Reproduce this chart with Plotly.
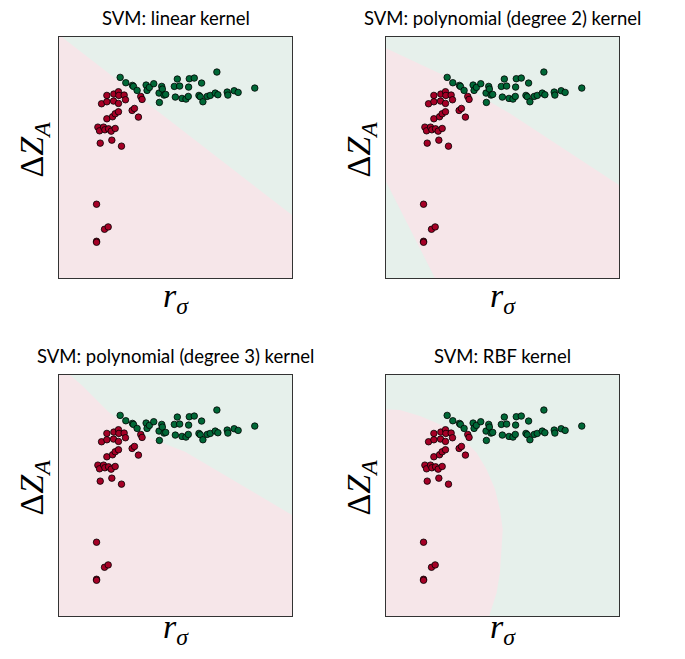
import plotly.graph_objects as go

# page has an 8px body margin, so the figure is drawn in page pixels shifted by OFF
OFF = 8
W, H = 685 - 2 * OFF, 659 - 2 * OFF

# ---- data (arbitrary units 0..10 on both axes) ----
green_x = [2.625, 2.867, 3.153, 3.195, 3.352, 3.738, 3.780, 3.880, 4.066, 4.294, 4.308, 4.408,
           4.437, 4.508, 4.579, 4.950, 4.993, 5.078, 5.178, 5.278, 5.449, 5.549, 5.563, 5.592,
           5.806, 6.120, 6.006, 6.063, 6.177, 6.362, 6.491, 6.705, 6.819, 6.776, 7.218, 7.247,
           7.518, 7.689, 8.402]
green_y = [8.324, 8.102, 7.992, 7.950, 7.784, 8.006, 7.784, 7.909, 8.061, 7.673, 7.285, 7.950,
           7.839, 7.590, 7.618, 7.950, 7.507, 8.255, 7.964, 7.452, 7.424, 7.535, 7.922, 8.269,
           8.296, 8.089, 7.576, 7.521, 7.313, 7.535, 7.576, 7.673, 7.604, 8.546, 7.715, 7.590,
           7.770, 7.701, 7.881]
red_x = [2.054, 2.354, 2.553, 2.568, 2.796, 2.853, 1.826, 2.054, 2.340, 2.553, 3.509, 3.566,
         3.138, 3.238, 3.409, 2.054, 2.297, 2.411, 2.553, 1.669, 1.740, 1.912, 1.969, 2.126,
         2.240, 2.411, 1.769, 2.268, 2.682, 1.612, 1.954, 2.111, 1.612, 1.612]
red_y = [7.576, 7.632, 7.729, 7.576, 7.590, 7.396, 7.230, 7.313, 7.341, 7.244, 7.535, 7.410,
         6.953, 7.036, 6.676, 6.607, 6.690, 6.814, 6.898, 6.260, 6.108, 6.260, 6.150, 6.191,
         6.094, 6.205, 5.596, 5.720, 5.471, 3.061, 2.022, 2.119, 1.524, 1.482]

titles = ["SVM: linear kernel", "SVM: polynomial (degree 2) kernel",
          "SVM: polynomial (degree 3) kernel", "SVM: RBF kernel"]

# decision-region (green class) polygons, per panel
green_regions = [
    [([0.12, 10, 10], [10, 2.61, 10])],
    [([0, 2.61, 5.32, 10, 10, 0], [9.53, 8.35, 6.83, 3.86, 10, 10]),
     ([0, 2.10, 0], [4.00, 0, 0])],
    [([0.47, 0.97, 1.55, 2.12, 2.69, 3.40, 4.12, 5.41, 8.41, 10, 10],
      [10, 9.59, 9.03, 8.48, 8.06, 7.65, 7.30, 6.82, 5.10, 4.19, 10])],
    [([0, 0, 0.60, 1.46, 2.32, 3.18, 3.89, 4.32, 4.68, 4.89, 5.01, 4.96, 4.89, 4.75, 4.53, 4.43, 10, 10],
      [10, 8.58, 8.55, 8.30, 7.95, 7.47, 6.77, 6.08, 5.26, 4.42, 3.59, 2.62, 1.80, 0.97, 0.25, 0, 0, 10])],
]

# ---- styling ----
RED = "#a50026"
GRN = "#006837"
PINK_BG = "rgb(246,230,233)"
GREEN_BG = "rgb(230,240,235)"

# panel page-pixel boxes (left, right, top, bottom)
boxes = [(59, 292, 37, 278), (386, 619, 37, 278), (59, 292, 375, 616), (386, 619, 375, 616)]


def px(v):
    return (v - OFF) / W


def py(v):
    return 1 - (v - OFF) / H


fig = go.Figure()
layout = {}
for i, (l, r, t, b) in enumerate(boxes):
    k = "" if i == 0 else str(i + 1)
    xa, ya = "x" + k, "y" + k
    common = dict(range=[0, 10], showticklabels=False, ticks="", showgrid=False, zeroline=False,
                  showline=True, mirror=True, linecolor="#333333", linewidth=1, fixedrange=True)
    layout["xaxis" + k] = dict(domain=[px(l), px(r)], anchor=ya, **common)
    layout["yaxis" + k] = dict(domain=[py(b), py(t)], anchor=xa, **common)
    for gx, gy in green_regions[i]:
        fig.add_trace(go.Scatter(x=gx, y=gy, fill="toself", fillcolor=GREEN_BG, mode="lines",
                                 line=dict(width=0), xaxis=xa, yaxis=ya, hoverinfo="skip",
                                 showlegend=False))
    fig.add_trace(go.Scatter(x=red_x, y=red_y, mode="markers", xaxis=xa, yaxis=ya, showlegend=False,
                             marker=dict(size=6.5, color=RED, line=dict(color="black", width=0.8))))
    fig.add_trace(go.Scatter(x=green_x, y=green_y, mode="markers", xaxis=xa, yaxis=ya, showlegend=False,
                             marker=dict(size=6.5, color=GRN, line=dict(color="black", width=0.8))))

serif = "Liberation Serif, DejaVu Serif, serif"
annotations = []
for i, (l, r, t, b) in enumerate(boxes):
    cx = (l + r) / 2
    annotations.append(dict(text=titles[i], x=px(cx), y=py(t - 19), xref="paper", yref="paper",
                            showarrow=False, xanchor="center", yanchor="middle",
                            font=dict(family="Lato, Open Sans, sans-serif", size=18.5, color="black")))
    if i < 2:
        xl = dict(y=py(b + 20), yanchor="middle")
    else:
        xl = dict(y=0, yanchor="bottom")
    annotations.append(dict(text="<i>r</i><sub><i>σ</i></sub>", x=px(cx), xref="paper", yref="paper",
                            showarrow=False, xanchor="center", borderpad=0,
                            font=dict(family=serif, size=34, color="black"), **xl))
    annotations.append(dict(text="Δ<i>Z</i><sub><i>A</i></sub>", x=px(l - 26), y=py((t + b) / 2 - 8),
                            xref="paper", yref="paper", showarrow=False, xanchor="center",
                            yanchor="middle", textangle=-90,
                            font=dict(family=serif, size=34, color="black")))

fig.update_layout(width=W, height=H, margin=dict(l=0, r=0, t=0, b=0),
                  paper_bgcolor="white", plot_bgcolor=PINK_BG, annotations=annotations, **layout)
fig.write_html("out.html")
